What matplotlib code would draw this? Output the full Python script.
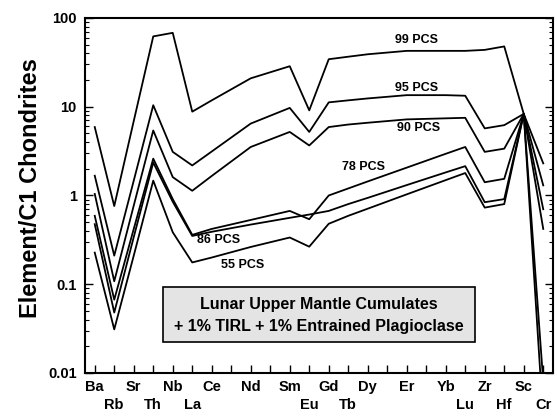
import numpy as np
import matplotlib.pyplot as plt
from matplotlib.patches import Rectangle
from matplotlib.ticker import LogLocator, NullFormatter, FixedLocator

plt.rcParams['font.family'] = ['Liberation Sans', 'DejaVu Sans']
plt.rcParams['font.weight'] = 'bold'

# full element order on the x axis (some slots have no element plotted)
full_order = ['Ba', 'Rb', 'Sr', 'Th', 'Nb', 'La', 'Ce', 'Pr', 'Nd', 'Pm', 'Sm', 'Eu',
              'Gd', 'Tb', 'Dy', 'Ho', 'Er', 'Tm', 'Yb', 'Lu', 'Zr', 'Hf', 'Sc', 'Cr']
elements = ['Ba', 'Rb', 'Sr', 'Th', 'Nb', 'La', 'Ce', 'Nd', 'Sm', 'Eu',
            'Gd', 'Tb', 'Dy', 'Er', 'Yb', 'Lu', 'Zr', 'Hf', 'Sc', 'Cr']
# which elements are labelled on the lower row
lower_row = ['Rb', 'Th', 'La', 'Eu', 'Tb', 'Lu', 'Hf', 'Cr']

#            Ba    Rb    Sr    Th    Nb    La    Ce    Nd    Sm    Eu
pcs99 = [5.9, 0.76, 6.9, 62.0, 68.0, 8.8, 11.8, 20.9, 28.6, 9.1,
         34.3, 36.6, 39.0, 42.6, 42.6, 42.6, 43.7, 47.8, 8.3, 2.3]
pcs95 = [1.67, 0.21, 1.47, 10.4, 3.1, 2.18, 3.13, 6.46, 9.7, 5.2,
         11.2, 11.8, 12.4, 13.5, 13.5, 13.3, 5.7, 6.2, 8.3, 1.3]
pcs90 = [1.04, 0.108, 0.77, 5.4, 1.61, 1.13, 1.66, 3.52, 5.2, 3.66,
         5.9, 6.3, 6.6, 7.2, 7.4, 7.5, 3.1, 3.37, 8.3, 0.7]
pcs78 = [0.59, 0.067, 0.42, 2.6, 0.91, 0.36, 0.42, 0.53, 0.67, 0.54,
         1.0, 1.2, 1.44, 2.06, 2.95, 3.52, 1.41, 1.54, 8.3, 0.42]
pcs66 = [0.475, 0.048, 0.34, 2.35, 0.85, 0.35, 0.39, 0.47, 0.56, 0.61,
         0.67, 0.80, 0.94, 1.31, 1.82, 2.14, 0.84, 0.91, 8.3, 0.008]
pcs55 = [0.227, 0.031, 0.21, 1.47, 0.385, 0.176, 0.20, 0.263, 0.336, 0.265,
         0.48, 0.59, 0.71, 1.03, 1.49, 1.79, 0.73, 0.80, 8.3, 0.003]

x = [full_order.index(e) for e in elements]

fig = plt.figure(figsize=(5.57, 4.16), dpi=100)
ax = fig.add_axes([0.1526, 0.1034, 0.8402, 0.8534])

for series in [pcs99, pcs95, pcs90, pcs78, pcs66, pcs55]:
    ax.plot(x, series, color='black', lw=1.3)

ax.set_yscale('log')
ax.set_ylim(0.01, 100)
ax.set_xlim(-0.5, len(full_order) - 0.5)

ax.set_yticks([0.01, 0.1, 1, 10, 100])
ax.set_yticklabels(['0.01', '0.1', '1', '10', '100'], fontsize=10.5, fontweight='bold')
ax.yaxis.set_minor_locator(LogLocator(base=10, subs=np.arange(2, 10)))
ax.yaxis.set_minor_formatter(NullFormatter())

labels = [('\n' + e) if e in lower_row else e for e in elements]
ax.set_xticks(x)
ax.set_xticklabels(labels, fontsize=10.5, fontweight='bold', linespacing=1.35)
ax.xaxis.set_minor_locator(FixedLocator(range(len(full_order))))

ax.tick_params(axis='y', which='major', direction='in', length=6, width=1,
               left=True, right=True, pad=6)
ax.tick_params(axis='y', which='minor', direction='in', length=3, width=0.8,
               left=True, right=True)
ax.tick_params(axis='x', which='both', direction='in', length=6, width=1,
               bottom=True, top=False, pad=5)
for s in ax.spines.values():
    s.set_linewidth(1.5)

ax.text(-0.1175, 0.521, 'Element/C1 Chondrites', transform=ax.transAxes,
        rotation=90, ha='center', va='center', fontsize=17, fontweight='bold')

# series labels
lab_kw = dict(ha='center', va='center', fontsize=9, fontweight='bold')
ax.text(16.5, 56.5, '99 PCS', **lab_kw)
ax.text(16.5, 16.3, '95 PCS', **lab_kw)
ax.text(16.6, 5.77, '90 PCS', **lab_kw)
ax.text(13.8, 2.09, '78 PCS', **lab_kw)
ax.text(6.36, 0.315, '86 PCS', **lab_kw)
ax.text(7.6, 0.165, '55 PCS', **lab_kw)

# caption box
ax.add_patch(Rectangle((0.1667, 0.0873), 0.6666, 0.1547, transform=ax.transAxes,
                       facecolor='#e4e4e4', edgecolor='black', lw=1.2, zorder=3))
ax.text(0.5, 0.194, 'Lunar Upper Mantle Cumulates', transform=ax.transAxes,
        ha='center', va='center', fontsize=11.5, fontweight='bold', zorder=4)
ax.text(0.5, 0.132, '+ 1% TIRL + 1% Entrained Plagioclase', transform=ax.transAxes,
        ha='center', va='center', fontsize=11.5, fontweight='bold', zorder=4)

plt.savefig('out.png', dpi=100)
